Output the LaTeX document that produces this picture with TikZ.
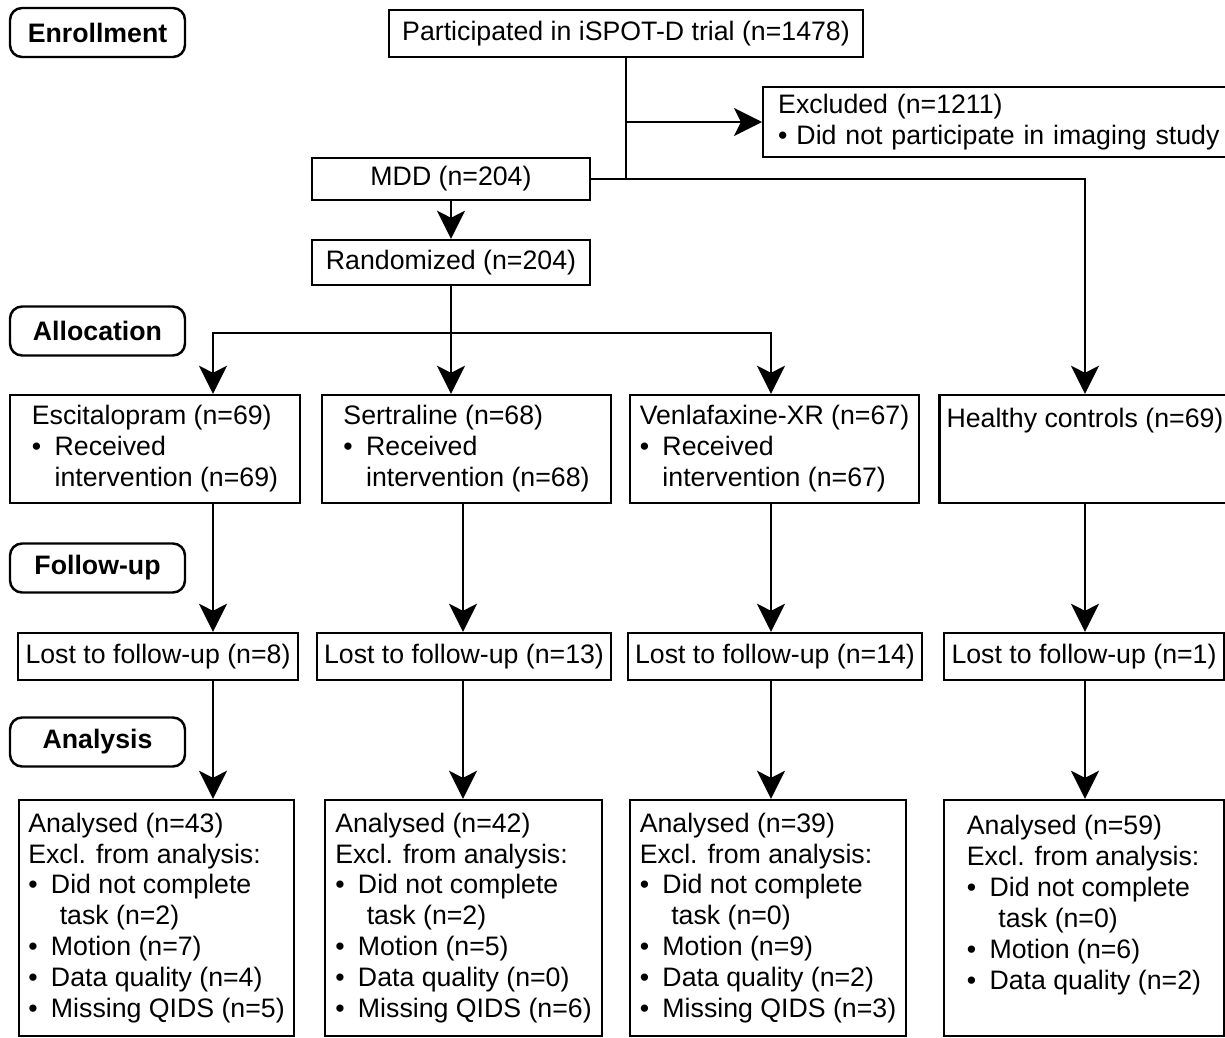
\documentclass[tikz,border=0pt]{standalone}
\usepackage{fontspec}
\setmainfont{Liberation Sans}
\usepackage{tikz}
\usetikzlibrary{arrows.meta,positioning}
\newcommand{\bul}{\textbullet\hspace{0.5em}}
\newcommand{\bulind}{\hphantom{\textbullet\hspace{0.5em}}}

\begin{document}
\begin{tikzpicture}[x=0.02cm,y=-0.02cm,
  every node/.style={font=\fontsize{15.2}{17.6}\selectfont},
  box/.style={draw,line width=1.4pt,inner xsep=4pt,inner ysep=3pt,align=left},
  phase/.style={draw,line width=1.4pt,rounded corners=0.24cm,minimum width=3.5cm,minimum height=0.98cm,font=\fontsize{15.2}{17.6}\selectfont\bfseries},
  grp/.style={box,minimum height=2.16cm},
  lost/.style={box,minimum height=0.94cm},
  anl/.style={box,minimum height=4.72cm},
  conn/.style={line width=1.4pt},
  arr/.style={conn,-{Stealth[length=0.56cm,width=0.56cm,inset=0.14cm]}}
]
  \useasboundingbox (0,0) rectangle (1225,1038);
  % phase labels
  \node[phase] (enroll) at (97.5,32.5) {Enrollment};
  \node[phase] (alloc) at (97.5,331) {Allocation};
  \node[phase] (follow) at (97.5,568) {Follow-up};
  \node[phase] (analys) at (97.5,742) {Analysis};
  % enrollment
  \node[box,minimum width=9.48cm,minimum height=0.94cm] (trial) at (626,33.5) {Participated in iSPOT-D trial (n=1478)};
  \node[box,anchor=west,text width=9.0cm,inner xsep=0.3cm,minimum height=1.4cm] (excl) at (762,122) {Excluded (n=1211)\\\textbullet\ Did not participate in imaging study};
  \node[box,minimum width=5.56cm,minimum height=0.84cm] (mdd) at (451,179) {MDD (n=204)};
  \node[box,minimum width=5.56cm,minimum height=0.9cm] (rand) at (451,262.5) {Randomized (n=204)};
  % allocation
  \node[grp,minimum width=5.8cm] (esc) at (155,449) {Escitalopram (n=69)\\\bul Received\\\bulind intervention (n=69)};
  \node[grp,minimum width=5.78cm] (ser) at (466.5,449) {Sertraline (n=68)\\\bul Received\\\bulind intervention (n=68)};
  \node[grp,minimum width=5.78cm] (ven) at (774.5,449) {Venlafaxine-XR (n=67)\\\bul Received\\\bulind intervention (n=67)};
  \node[grp,minimum width=5.8cm] (hc) at (1085,449) {Healthy controls (n=69)\\\mbox{}\\\mbox{}};
  % follow-up
  \node[lost,minimum width=5.6cm] (lost1) at (158,656.5) {Lost to follow-up (n=8)};
  \node[lost,minimum width=5.88cm] (lost2) at (464,656.5) {Lost to follow-up (n=13)};
  \node[lost,minimum width=5.84cm] (lost3) at (775,656.5) {Lost to follow-up (n=14)};
  \node[lost,minimum width=5.6cm] (lost4) at (1084,656.5) {Lost to follow-up (n=1)};
  % analysis
  \node[anl,minimum width=5.5cm] (an1) at (156.5,918) {Analysed (n=43)\\Excl. from analysis:\\\bul Did not complete\\\bulind\hspace{5pt}task (n=2)\\\bul Motion (n=7)\\\bul Data quality (n=4)\\\bul Missing QIDS (n=5)};
  \node[anl,minimum width=5.54cm] (an2) at (463.5,918) {Analysed (n=42)\\Excl. from analysis:\\\bul Did not complete\\\bulind\hspace{5pt}task (n=2)\\\bul Motion (n=5)\\\bul Data quality (n=0)\\\bul Missing QIDS (n=6)};
  \node[anl,minimum width=5.52cm] (an3) at (768,918) {Analysed (n=39)\\Excl. from analysis:\\\bul Did not complete\\\bulind\hspace{5pt}task (n=0)\\\bul Motion (n=9)\\\bul Data quality (n=2)\\\bul Missing QIDS (n=3)};
  \node[anl,minimum width=5.6cm] (an4) at (1084,918) {Analysed (n=59)\\Excl. from analysis:\\\bul Did not complete\\\bulind\hspace{5pt}task (n=0)\\\bul Motion (n=6)\\\bul Data quality (n=2)\\\mbox{}};
  % column lines
  \coordinate (c1) at (213,0);
  \coordinate (c2) at (463,0);
  \coordinate (c3) at (771,0);
  \coordinate (c4) at (1085,0);
  \coordinate (bar) at (451,333);
  % connectors
  \draw[conn] (trial.south) -- (trial.south |- mdd.east);
  \draw[arr] (trial.south |- excl.west) -- (excl.west);
  \draw[arr] (mdd.east) -| (c4 |- hc.north);
  \draw[arr] (mdd) -- (rand);
  \draw[arr] (rand.south) -- (rand.south |- ser.north);
  \draw[arr] (bar) -| (c1 |- esc.north);
  \draw[arr] (bar) -| (c3 |- ven.north);
  \foreach \c/\a/\b/\d in {c1/esc/lost1/an1,c2/ser/lost2/an2,c3/ven/lost3/an3,c4/hc/lost4/an4}{
    \draw[arr] (\c |- \a.south) -- (\c |- \b.north);
    \draw[arr] (\c |- \b.south) -- (\c |- \d.north);
  }
\end{tikzpicture}
\end{document}
